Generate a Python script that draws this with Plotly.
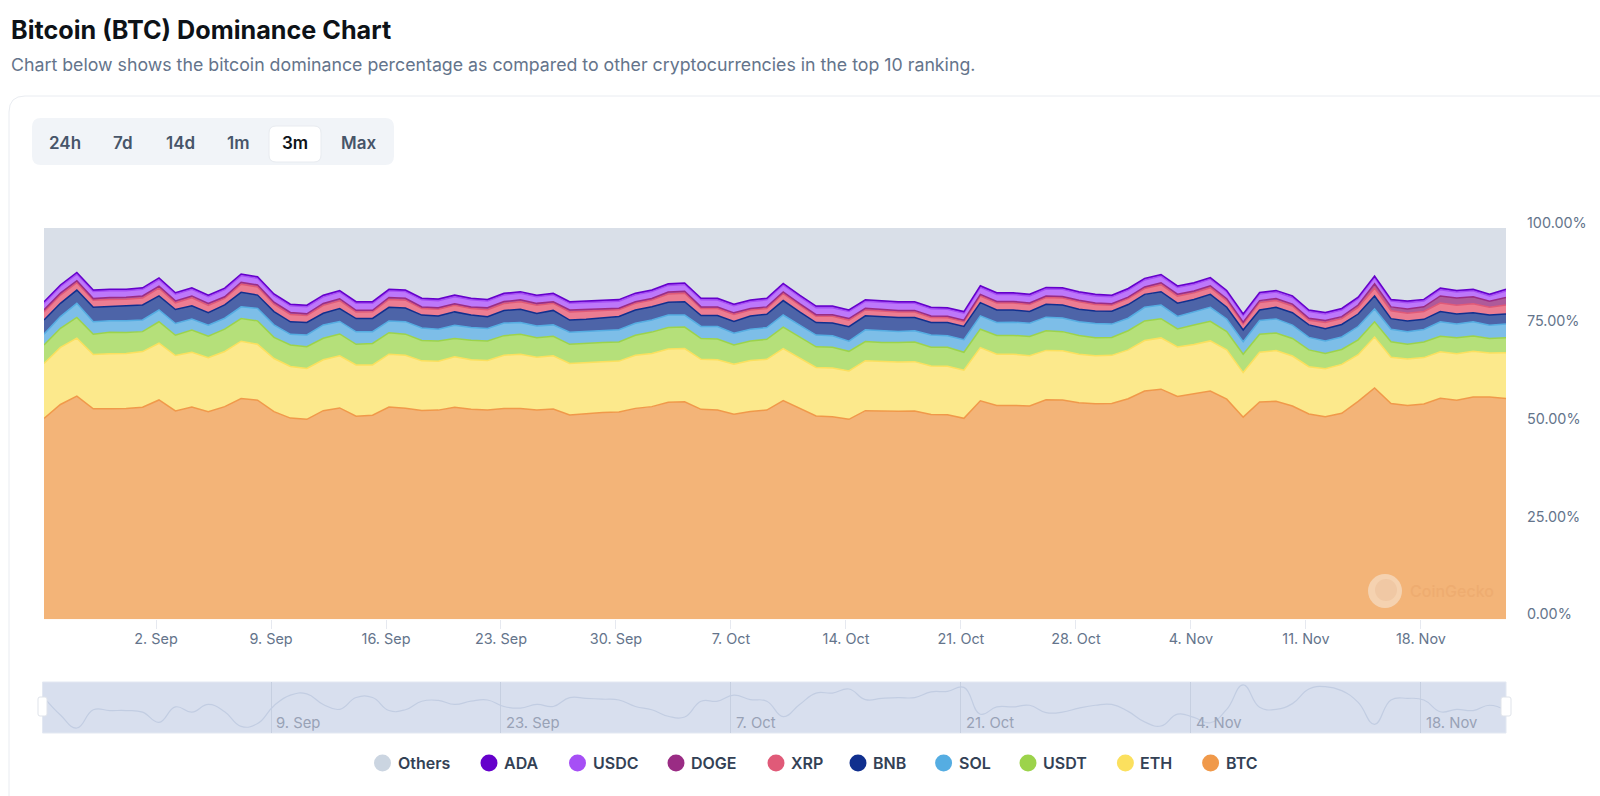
import pandas as pd
import plotly.graph_objects as go

dates = pd.date_range("2024-08-26 04:20", periods=90, freq="D")

btc = [51.4,55.0,57.1,53.9,53.9,54.0,54.2,56.1,53.4,54.3,53.1,54.4,56.5,56.1,53.1,51.4,51.2,53.3,54.0,52.0,52.3,54.3,54.0,53.4,53.5,54.3,53.7,53.5,53.8,53.9,
       53.5,53.8,52.3,52.7,52.9,52.9,54.0,54.5,55.5,55.7,53.7,53.5,52.4,53.1,53.5,56.0,54.0,52.0,51.8,51.2,53.4,53.2,53.2,53.3,52.4,52.3,51.4,55.9,54.7,54.7,
       54.6,56.1,56.0,55.4,55.2,55.2,56.4,58.4,58.8,56.9,57.6,58.4,56.3,51.7,55.6,55.8,54.6,52.5,51.8,52.7,55.7,59.1,55.2,54.6,55.1,56.5,56.0,56.9,56.9,56.5]
eth = [14.1,14.6,14.8,13.9,14.1,14.1,14.2,14.5,14.2,14.0,13.8,14.1,14.7,14.3,13.6,13.2,13.0,13.0,13.3,13.1,12.9,13.5,13.6,12.7,12.5,12.9,12.7,12.7,13.6,13.9,
       13.5,13.6,13.2,13.1,13.0,13.0,13.6,13.6,13.6,13.6,12.8,12.8,12.8,13.0,13.0,13.3,13.0,12.4,12.5,12.4,12.8,12.7,12.6,12.6,12.4,12.4,12.3,13.6,13.1,13.1,
       12.9,12.6,12.6,12.4,12.3,12.3,12.5,12.9,13.1,12.6,12.6,12.8,12.6,11.4,12.7,13.0,12.8,12.1,12.3,12.5,11.9,13.0,11.8,11.9,11.9,11.9,11.9,11.7,11.3,11.7]
usdt = [4.7,4.9,5.3,5.2,5.5,5.4,5.1,5.5,5.2,5.7,5.5,5.7,5.8,6.0,5.4,5.5,5.6,5.5,5.6,5.3,5.5,5.5,5.4,5.2,5.2,4.7,5.0,5.0,5.0,5.1,
        5.0,5.0,4.9,4.9,4.9,4.9,5.1,5.5,5.5,5.5,5.3,5.3,4.9,5.0,5.1,5.5,5.4,5.3,5.3,5.0,4.9,4.9,5.0,5.0,4.8,4.9,4.6,4.7,4.8,4.8,
        4.9,5.0,4.9,4.8,4.6,4.6,4.9,5.0,4.9,4.6,5.0,5.0,4.7,4.7,4.6,4.5,4.5,4.3,3.9,3.8,3.8,3.9,4.0,3.8,4.0,4.0,4.1,3.9,3.7,3.8]
sol = [2.8,3.0,3.6,3.2,2.9,3.0,3.0,3.0,3.0,2.8,2.8,2.8,3.0,3.2,3.2,2.7,3.0,3.4,3.2,3.2,3.0,3.0,3.2,3.2,3.0,3.4,3.2,3.2,3.2,3.0,
       3.0,2.9,3.1,3.0,3.0,3.1,3.1,3.1,3.2,3.1,3.1,3.2,3.0,3.0,3.0,3.1,3.0,3.0,2.9,2.6,3.0,3.0,2.8,2.9,3.1,2.9,3.2,3.4,3.3,3.4,
       3.4,3.5,3.5,3.5,3.6,3.4,3.2,3.5,3.5,3.2,3.3,3.6,3.2,3.2,3.5,3.6,3.4,3.2,3.2,3.2,3.4,3.3,3.2,3.2,3.2,3.7,3.5,3.7,3.4,3.5]
bnb = [3.6,3.4,3.4,3.7,3.7,3.8,3.8,3.6,3.6,3.4,3.2,3.4,3.7,3.4,3.4,3.2,3.2,3.0,3.3,3.4,3.4,3.5,3.5,3.3,3.4,3.4,3.2,3.0,3.2,3.4,
       3.2,3.7,3.1,3.1,3.2,3.4,3.4,3.4,3.3,3.4,2.8,2.8,3.0,3.4,3.4,3.7,3.4,3.2,3.3,3.7,3.6,3.6,3.6,3.4,3.2,3.4,3.4,3.4,3.2,3.1,
       3.0,3.3,3.3,3.2,3.2,3.3,3.5,3.3,3.4,3.4,3.2,3.3,3.0,3.0,2.7,3.0,3.2,3.2,3.1,3.2,3.2,3.3,2.7,2.7,2.6,2.6,2.6,2.3,2.6,2.6]
xrp = [2.1,2.1,1.9,1.8,1.8,1.7,1.8,2.0,1.7,2.0,1.9,1.7,2.1,2.1,1.9,1.9,1.8,2.0,2.0,1.7,1.7,2.0,2.0,1.7,1.7,1.7,1.7,1.8,1.8,1.9,
       2.1,1.8,2.1,2.1,2.0,1.7,1.7,1.7,2.1,2.2,1.8,1.8,1.8,1.5,1.5,1.8,1.7,1.6,1.7,1.7,1.5,1.4,1.4,1.4,1.3,1.2,1.2,1.7,1.8,1.8,
       1.8,1.7,1.8,1.9,1.7,1.5,1.5,1.5,1.8,1.8,1.7,1.7,1.7,1.5,1.9,1.7,1.7,1.2,1.6,1.5,1.7,2.0,2.0,2.0,2.0,2.2,2.2,2.3,2.0,2.3]
doge = [0.5,0.5,0.5,0.4,0.5,0.5,0.5,0.5,0.5,0.5,0.5,0.4,0.5,0.5,0.5,0.5,0.4,0.5,0.5,0.4,0.4,0.5,0.5,0.4,0.4,0.4,0.4,0.5,0.5,0.5,
        0.5,0.4,0.5,0.5,0.5,0.4,0.4,0.4,0.5,0.5,0.4,0.4,0.4,0.4,0.4,0.4,0.4,0.4,0.4,0.4,0.4,0.4,0.4,0.4,0.4,0.4,0.4,0.4,0.4,0.4,
        0.4,0.4,0.4,0.4,0.4,0.4,0.4,0.4,0.5,0.5,0.5,0.5,0.5,0.5,0.5,0.5,0.5,0.5,0.5,0.5,0.6,1.1,1.0,1.1,1.2,1.8,1.9,1.8,1.5,1.9]
usdc = [1.7,1.7,1.7,1.8,1.7,1.7,1.7,1.7,1.7,1.7,1.7,1.8,1.7,1.7,1.7,1.7,1.8,1.7,1.7,1.8,1.8,1.7,1.7,1.8,1.8,1.8,1.8,1.7,1.7,1.7,
        1.7,1.8,1.7,1.7,1.7,1.8,1.8,1.8,1.7,1.7,1.8,1.8,1.8,1.8,1.8,1.8,1.8,1.8,1.8,1.8,1.8,1.8,1.8,1.8,1.8,1.8,1.8,1.8,1.8,1.8,
        1.8,1.8,1.8,1.8,1.8,1.8,1.8,1.8,1.7,1.7,1.7,1.7,1.7,1.7,1.7,1.7,1.7,1.7,1.7,1.7,1.6,1.6,1.5,1.6,1.5,1.6,1.5,1.5,1.4,1.7]
ada = [0.4,0.4,0.4,0.4,0.4,0.4,0.4,0.4,0.4,0.4,0.4,0.4,0.4,0.4,0.4,0.4,0.4,0.4,0.4,0.4,0.4,0.4,0.4,0.4,0.4,0.4,0.4,0.4,0.4,0.4,
       0.4,0.4,0.4,0.4,0.4,0.4,0.4,0.4,0.4,0.4,0.4,0.4,0.4,0.4,0.4,0.4,0.4,0.4,0.4,0.4,0.4,0.4,0.4,0.4,0.4,0.4,0.4,0.4,0.4,0.4,
       0.4,0.4,0.4,0.4,0.4,0.4,0.4,0.4,0.4,0.4,0.4,0.4,0.4,0.4,0.4,0.4,0.4,0.4,0.4,0.4,0.4,0.4,0.4,0.4,0.4,0.4,0.4,0.4,0.4,0.4]
others = [18.8,14.5,11.3,15.8,15.6,15.6,15.2,12.7,16.5,15.2,17.1,15.3,11.7,12.4,16.8,19.4,19.7,17.1,15.9,18.8,18.8,15.6,15.8,17.9,18.1,17.1,17.9,18.2,16.6,16.2,
          17.1,16.6,18.8,18.6,18.4,18.2,16.6,15.8,14.2,14.0,17.9,17.9,19.4,18.3,17.9,14.1,17.1,19.9,19.9,20.9,18.3,18.6,18.8,18.8,20.2,20.3,21.3,14.7,16.5,16.5,
          16.9,15.1,15.2,16.2,16.9,17.1,15.4,12.8,11.8,14.7,13.9,12.6,15.9,21.9,16.4,15.9,17.3,20.9,21.5,20.5,17.6,12.2,18.2,18.6,18.2,15.3,15.9,15.6,16.9,15.6]

stack_names = ["BTC", "ETH", "USDT", "SOL", "BNB", "XRP", "DOGE", "USDC", "ADA", "Others"]
stack_values = [btc, eth, usdt, sol, bnb, xrp, doge, usdc, ada, others]
line_colors = ["#f0994a", "#fbe05e", "#9cd34b", "#55ade2", "#102f8e", "#e05a78", "#9a2c84", "#a64ff5", "#6500cb", "#d3dae5"]
fill_colors = ["#f3b478", "#fce98c", "#b5e07a", "#7dbee8", "#4d64a8", "#ec7d92", "#ae5a9a", "#bd78fa", "#8a32dc", "#d9dfe8"]

y_ticks = [0, 25, 50, 75, 100]
y_labels = ["0.00%", "25.00%", "50.00%", "75.00%", "100.00%"]
x_ticks = ["2024-09-02", "2024-09-09", "2024-09-16", "2024-09-23", "2024-09-30", "2024-10-07",
           "2024-10-14", "2024-10-21", "2024-10-28", "2024-11-04", "2024-11-11", "2024-11-18"]
x_labels = ["2. Sep", "9. Sep", "16. Sep", "23. Sep", "30. Sep", "7. Oct",
            "14. Oct", "21. Oct", "28. Oct", "4. Nov", "11. Nov", "18. Nov"]
nav_ticks = ["2024-09-09", "2024-09-23", "2024-10-07", "2024-10-21", "2024-11-04", "2024-11-18"]
nav_labels = ["9. Sep", "23. Sep", "7. Oct", "21. Oct", "4. Nov", "18. Nov"]
range_tabs = ["24h", "7d", "14d", "1m", "3m", "Max"]

W, H = 1600, 796
px = lambda v: v / W
py = lambda v: 1 - v / H
FONT = "Inter"

fig = go.Figure()
for name, vals, lc, fc in zip(stack_names, stack_values, line_colors, fill_colors):
    fig.add_trace(go.Scatter(x=dates, y=vals, name=name, mode="lines", stackgroup="one",
                             groupnorm="percent", line=dict(color=lc, width=1.5), fillcolor=fc,
                             showlegend=False, xaxis="x", yaxis="y"))
fig.add_trace(go.Scatter(x=dates, y=others, mode="lines", showlegend=False, xaxis="x2", yaxis="y2",
                         line=dict(color="#c2cde2", width=1.2, shape="spline", smoothing=1.3)))

x_range = [dates[0], dates[-1]]
shapes = []
annots = []

def text(x, y, s, size, color, weight=400, anchor="left"):
    annots.append(dict(x=px(x), y=py(y), xref="paper", yref="paper", text=s, showarrow=False,
                       xanchor=anchor, yanchor="middle", align="left",
                       font=dict(family=FONT, size=size, color=color, weight=weight)))

def rrect(x0, y0, x1, y1, r, fill, line="rgba(0,0,0,0)", layer="above"):
    p = (f"M {px(x0 + r)} {py(y0)} L {px(x1 - r)} {py(y0)} Q {px(x1)} {py(y0)} {px(x1)} {py(y0 + r)} "
         f"L {px(x1)} {py(y1 - r)} Q {px(x1)} {py(y1)} {px(x1 - r)} {py(y1)} "
         f"L {px(x0 + r)} {py(y1)} Q {px(x0)} {py(y1)} {px(x0)} {py(y1 - r)} "
         f"L {px(x0)} {py(y0 + r)} Q {px(x0)} {py(y0)} {px(x0 + r)} {py(y0)} Z")
    shapes.append(dict(type="path", path=p, xref="paper", yref="paper", fillcolor=fill,
                       line=dict(color=line, width=1), layer=layer))

def circle(cx, cy, r, fill, layer="above"):
    shapes.append(dict(type="circle", xref="paper", yref="paper", x0=px(cx - r), x1=px(cx + r),
                       y0=py(cy + r), y1=py(cy - r), fillcolor=fill, line=dict(width=0), layer=layer))

# header
text(8.5, 30, "<b>Bitcoin (BTC) Dominance Chart</b>", 25.2, "#0d1217")
text(8.5, 64, "Chart below shows the bitcoin dominance percentage as compared to other cryptocurrencies in the top 10 ranking.", 17.75, "#64748b")

# card border
shapes.append(dict(type="path", xref="paper", yref="paper", layer="below",
                   path=f"M {px(9)} {py(796)} L {px(9)} {py(112)} Q {px(9)} {py(96)} {px(25)} {py(96)} L {px(1600)} {py(96)}",
                   line=dict(color="#e9ecf1", width=1)))

# range tabs
rrect(32, 118, 394, 165, 9, "#f1f4f8", layer="below")
rrect(269, 126, 321, 162, 7, "#ffffff", line="#e8ebf0")
for lbl, cx in zip(range_tabs, [65, 123, 180, 238, 295, 358]):
    text(cx, 143, lbl, 17, "#0d1217" if lbl == "3m" else "#475569", 600, "center")

# watermark
circle(1385, 591, 17, "#f5d2b0")
circle(1386, 590, 11, "#f0c8a4")
text(1408, 591, "CoinGecko", 16, "#eeac70", 500)

# navigator
shapes.append(dict(type="rect", xref="paper", yref="paper", x0=px(42.5), x1=px(1506), y0=py(733), y1=py(682),
                   fillcolor="#d8dfee", line=dict(color="#e3e8f2", width=1), layer="below"))
rrect(38, 697, 47, 716, 2, "#ffffff", line="#dfe3ea")
rrect(1501, 697, 1511, 716, 2, "#ffffff", line="#dfe3ea")
for t, lbl in zip(nav_ticks, nav_labels):
    annots.append(dict(x=pd.Timestamp(t) + pd.Timedelta(hours=4), y=py(723), xref="x2", yref="paper", text=lbl,
                       showarrow=False, xanchor="left", yanchor="middle",
                       font=dict(family=FONT, size=14.8, color="#98a2b6")))

# custom legend
legend_names = ["Others", "ADA", "USDC", "DOGE", "XRP", "BNB", "SOL", "USDT", "ETH", "BTC"]
legend_colors = ["#cbd5e1", "#6500cb", "#a64ff5", "#9a2c84", "#e05a78", "#102f8e", "#55ade2", "#9cd34b", "#fbe05e", "#f0994a"]
legend_cx = [382.5, 489, 577.5, 676, 776, 858, 943.6, 1028, 1125.4, 1210.6]
for n, c, cx in zip(legend_names, legend_colors, legend_cx):
    circle(cx, 763, 8.5, c)
    text(cx + 13, 763, n, 16, "#334155", 600)

fig.update_layout(
    width=W, height=H, margin=dict(l=0, r=0, t=0, b=0, autoexpand=False), paper_bgcolor="white", plot_bgcolor="rgba(0,0,0,0)",
    font=dict(family=FONT), showlegend=False, hovermode=False, shapes=shapes, annotations=annots,
    xaxis=dict(domain=[px(44), px(1506)], range=x_range, anchor="y", automargin=False, tickmode="array", tickvals=x_ticks,
               ticktext=x_labels, ticks="outside", ticklen=9, tickcolor="#e6e9f0", showgrid=False, zeroline=False,
               showline=False, ticklabelstandoff=-3, tickfont=dict(family=FONT, size=14.4, color="#64748b")),
    yaxis=dict(domain=[py(619.3), py(228.3)], range=[0, 100], side="right", anchor="x", automargin=False, tickmode="array",
               tickvals=y_ticks, ticktext=y_labels, showgrid=False, zeroline=False, showline=False,
               ticks="", ticklabelstandoff=20, ticklabelshift=-5,
               tickfont=dict(family=FONT, size=14.4, color="#64748b")),
    xaxis2=dict(domain=[px(44), px(1506)], range=x_range, anchor="y2", automargin=False, tickmode="array", tickvals=nav_ticks,
                showticklabels=False, showgrid=True, gridcolor="#c6cfe0", gridwidth=1, zeroline=False, showline=False),
    yaxis2=dict(domain=[py(733), py(682)], range=[10.07, 22.63], anchor="x2", automargin=False, visible=False),
)
fig.write_html("out.html", config={"displayModeBar": False}, post_script="document.body.style.margin='0';")
